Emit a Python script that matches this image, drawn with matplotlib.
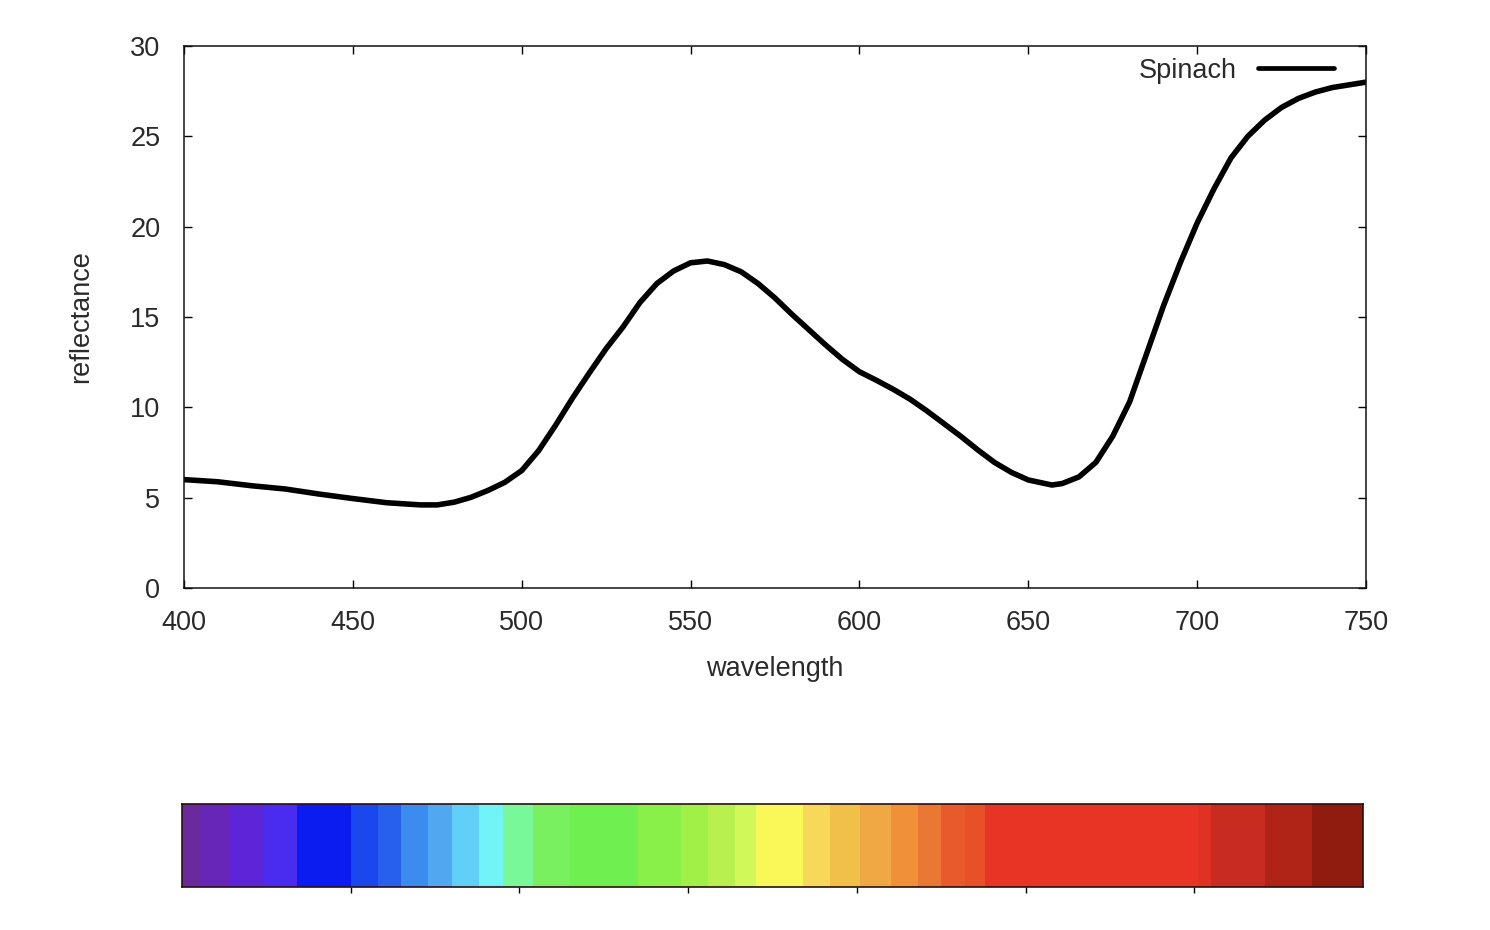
import matplotlib
matplotlib.use("Agg")
import matplotlib.pyplot as plt

plt.rcParams['font.family'] = ['Liberation Sans', 'DejaVu Sans']

# Spinach reflectance curve
wavelength = [400, 410, 420, 430, 440, 450, 460, 470, 475, 480, 485, 490, 495,
              500, 505, 510, 515, 520, 525, 530, 535, 540, 545, 550, 555, 560,
              565, 570, 575, 580, 585, 590, 595, 600, 605, 610, 615, 620, 625,
              630, 635, 640, 645, 650, 657, 660, 665, 670, 675, 680, 685, 690,
              695, 700, 705, 710, 715, 720, 725, 730, 735, 740, 745, 750]
reflectance = [6.0, 5.88, 5.66, 5.48, 5.2, 4.95, 4.72, 4.6, 4.6, 4.75, 5.02, 5.4, 5.85,
               6.5, 7.6, 9.0, 10.5, 11.9, 13.25, 14.45, 15.8, 16.85, 17.55, 18.0, 18.1, 17.9,
               17.5, 16.85, 16.05, 15.15, 14.3, 13.45, 12.65, 11.97, 11.5, 11.0, 10.45, 9.8, 9.1,
               8.4, 7.65, 6.95, 6.4, 5.98, 5.7, 5.78, 6.15, 6.95, 8.4, 10.3, 12.95, 15.6,
               18.0, 20.2, 22.1, 23.8, 25.0, 25.9, 26.6, 27.1, 27.45, 27.7, 27.85, 28.0]
series_label = "Spinach"

x_ticks = [400, 450, 500, 550, 600, 650, 700, 750]
y_ticks = [0, 5, 10, 15, 20, 25, 30]

# Spectrum strip below the chart: band edges (nm) and colours
band_edges = [400, 405, 414, 424, 434, 450, 458, 465, 473, 480, 488, 495, 504,
              515, 535, 548, 556, 564, 570, 584, 592, 601, 610, 618, 625, 632,
              638, 701, 705, 721, 735, 750]
band_colors = ['#6a2a9c', '#6826b8', '#5c26d8', '#4a2cf0', '#0a1cf0', '#1a48ee',
               '#2860ee', '#3c8cf0', '#50a8f0', '#60d0f8', '#70f4f8', '#78f898',
               '#78f060', '#70f050', '#88f048', '#a0f048', '#b8f050', '#d0f858',
               '#f8f858', '#f8d858', '#f0c048', '#f0a844', '#f09038', '#e87834',
               '#e85a2c', '#e85028', '#e83424', '#e03224', '#c82c20', '#b02418',
               '#901c10']

text_color = '#2a2a2a'
fs = 19.5

fig = plt.figure(figsize=(14.9, 9.3), dpi=100)
ax = fig.add_axes([184 / 1490, 1 - 588 / 930, 1182 / 1490, 542 / 930])
ax.plot(wavelength, reflectance, color='black', lw=4.0, label=series_label,
        solid_capstyle='round', solid_joinstyle='round')
ax.set_xlim(400, 750)
ax.set_ylim(0, 30)
ax.set_xticks(x_ticks)
ax.set_yticks(y_ticks)
ax.tick_params(direction='in', length=6, width=1, top=True, right=True,
               labelsize=fs, labelcolor=text_color, color='black')
ax.tick_params(axis='x', pad=16)
ax.tick_params(axis='y', pad=17)
for s in ax.spines.values():
    s.set_linewidth(1.1)
    s.set_color('#111111')
ax.set_xlabel('wavelength', fontsize=fs, color=text_color, labelpad=14)
ax.set_ylabel('reflectance', fontsize=fs, color=text_color, labelpad=26)
leg = ax.legend(loc='upper right', frameon=False, markerfirst=False,
                fontsize=fs, handlelength=2.8, handletextpad=0.8,
                borderpad=0, borderaxespad=0, bbox_to_anchor=(0.973, 0.978))
for t in leg.get_texts():
    t.set_color(text_color)
for h in leg.get_lines():
    h.set_linewidth(3.4)

cax = fig.add_axes([182 / 1490, 1 - 887 / 930, 1181 / 1490, 83 / 930])
lefts = band_edges[:-1]
widths = [b - a for a, b in zip(band_edges[:-1], band_edges[1:])]
cax.bar(lefts, [1] * len(lefts), width=widths, align='edge', color=band_colors,
        edgecolor='none', linewidth=0)
cax.set_xlim(400, 750)
cax.set_ylim(0, 1)
cax.set_yticks([])
cax.set_xticks(x_ticks[1:-1])
cax.tick_params(axis='x', direction='out', length=4, width=1, labelbottom=False)
for s in cax.spines.values():
    s.set_linewidth(1.2)
    s.set_color('#2a1010')

fig.savefig('out.png', dpi=100)
